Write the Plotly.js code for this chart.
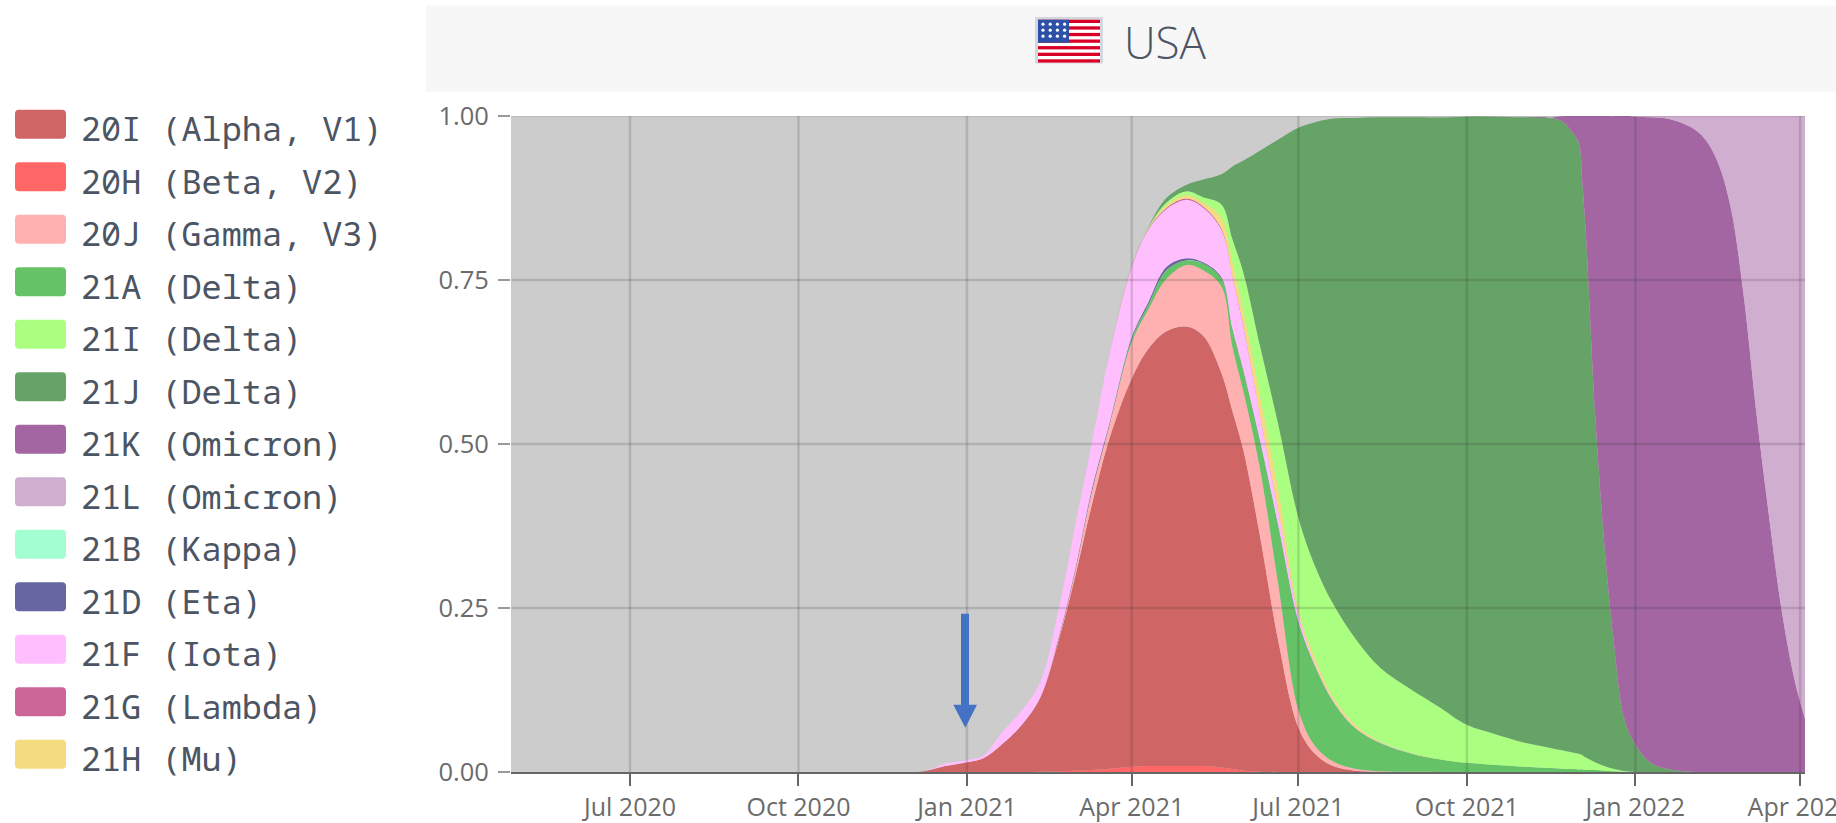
<!DOCTYPE html>
<html>
<head>
<meta charset="utf-8">
<script src="https://cdn.plot.ly/plotly-3.0.1.min.js"></script>
<style>html,body{margin:0;padding:0;background:#fff}#chart{width:1836px;height:823px}</style>
</head>
<body>
<div id="chart"></div>
<script>
const dates = [
 '2020-12-05','2020-12-10','2020-12-20','2021-01-01','2021-01-10','2021-01-20','2021-01-31','2021-02-10','2021-02-20','2021-03-01','2021-03-10','2021-03-20','2021-04-01',
 '2021-04-10','2021-04-20','2021-05-01','2021-05-10','2021-05-20','2021-05-26','2021-06-01','2021-06-10','2021-06-20','2021-07-01','2021-07-10','2021-07-20','2021-08-01','2021-08-15',
 '2021-09-01','2021-09-15','2021-10-01','2021-10-15','2021-11-01','2021-11-15','2021-11-22','2021-11-27','2021-12-01','2021-12-03','2021-12-05','2021-12-10','2021-12-15','2021-12-20','2021-12-26',
 '2022-01-01','2022-01-10','2022-01-20','2022-02-01','2022-02-08','2022-02-15','2022-02-22','2022-03-01','2022-03-08','2022-03-15','2022-03-22','2022-03-29','2022-04-04'];

const v20H = [0,0,0,0,0,0,0,.0005,.001,.002,.003,.005,.008,
 .009,.009,.009,.009,.007,.0045,.002,.0005,.0001,0,0,0,0,0,
 0,0,0,0,0,0,0,0,0,0,0,0,0,0,0,
 0,0,0,0,0,0,0,0,0,0,0,0,0];
const v20I = [0,.002,.009,.015,.021,.042,.072,.1125,.199,.295,.402,.505,.592,
 .636,.663,.67,.656,.601,.5455,.488,.3595,.2,.068,.028,.009,.002,.0003,
 0,0,0,0,0,0,0,0,0,0,0,0,0,0,0,
 0,0,0,0,0,0,0,0,0,0,0,0,0];
const v20J = [0,0,0,0,0,0,0,.0005,.003,.008,.02,.02,.055,
 .06,.08,.094,.10,.132,.098,.09,.103,.086,.027,.012,.007,.003,.0007,
 .0002,0,0,0,0,0,0,0,0,0,0,0,0,0,0,
 0,0,0,0,0,0,0,0,0,0,0,0,0];
const v21A = [0,0,0,0,0,0,0,0,0,0,0,.001,.005,
 .007,.013,.007,.01,.012,.027,.031,.042,.089,.134,.122,.091,.062,.043,
 .0278,.02,.014,.011,.008,.006,.005,.0045,.004,.004,.0035,.003,.002,.001,.0004,
 0,0,0,0,0,0,0,0,0,0,0,0,0];
const v21I = [0,0,0,0,0,0,0,0,0,0,0,0,0,
 .001,.004,.006,.008,.02,.035,.058,.075,.1,.14,.14,.142,.132,.112,
 .0965,.0807,.058,.048,.037,.031,.028,.0255,.024,.022,.0185,.012,.007,.0038,.001,
 0,0,0,0,0,0,0,0,0,0,0,0,0];
const v21J = [0,0,0,0,0,0,0,0,0,0,0,0,0,
 .001,.007,.01,.027,.046,.111,.171,.297,.434,.594,.676,.74,.793,.84,
 .873,.897,.927,.94,.953,.96,.959,.947,.932,.874,.798,.533,.341,.2,.079,
 .042,.013,.004,.0005,0,0,0,0,0,0,0,0,0];
const v21K = [0,0,0,0,0,0,0,0,0,0,0,0,0,
 0,0,0,0,0,0,0,0,0,0,0,0,0,0,
 0,0,0,0,0,0,.0075,.023,.04,.10,.18,.452,.65,.795,.92,
 .957,.985,.991,.9815,.965,.93,.862,.73,.55,.39,.245,.14,.078];
const v21L = [0,0,0,0,0,0,0,0,0,0,0,0,0,
 0,0,0,0,0,0,0,0,0,0,0,0,0,0,
 0,0,0,0,0,0,0,0,0,0,0,0,0,0,0,
 .001,.002,.005,.018,.035,.07,.138,.27,.45,.61,.755,.86,.922];
const v21B = [0,0,0,0,0,0,0,0,0,0,0,0,.0002,
 .0002,.0002,.0002,.0002,.0002,0,0,0,0,0,0,0,0,0,
 0,0,0,0,0,0,0,0,0,0,0,0,0,0,0,
 0,0,0,0,0,0,0,0,0,0,0,0,0];
const v21D = [0,0,0,0,0,0,0,0,.002,.003,.004,.003,.003,
 .004,.005,.003,.002,.002,.001,.001,.001,.001,.001,.0005,.0005,0,0,
 0,0,0,0,0,0,0,0,0,0,0,0,0,0,0,
 0,0,0,0,0,0,0,0,0,0,0,0,0];
const v21F = [0,0,.004,.003,.004,.018,.022,.023,.042,.066,.07,.105,.107,
 .11,.088,.089,.083,.072,.079,.066,.038,.022,.01,.003,.0015,.001,.0005,
 0,0,0,0,0,0,0,0,0,0,0,0,0,0,0,
 0,0,0,0,0,0,0,0,0,0,0,0,0];
const v21G = [0,0,0,0,0,0,0,0,0,0,0,.0005,.001,
 .001,.002,.002,.002,.002,.001,.002,.001,.001,.001,0,0,0,0,
 0,0,0,0,0,0,0,0,0,0,0,0,0,0,0,
 0,0,0,0,0,0,0,0,0,0,0,0,0];
const v21H = [0,0,0,0,0,0,0,0,0,0,0,0,0,
 .001,.004,.005,.006,.017,.021,.023,.03,.031,.007,.009,.005,.004,.0015,
 .0005,0,0,0,0,0,0,0,0,0,0,0,0,0,0,
 0,0,0,0,0,0,0,0,0,0,0,0,0];

const legendNames = ['20I (Alpha, V1)','20H (Beta, V2)','20J (Gamma, V3)','21A (Delta)','21I (Delta)','21J (Delta)',
 '21K (Omicron)','21L (Omicron)','21B (Kappa)','21D (Eta)','21F (Iota)','21G (Lambda)','21H (Mu)'];
const legendColors = ['#cf6565','#ff6666','#ffb0b0','#66c266','#aaff80','#66a366','#a366a3','#d0aed0','#a3ffd1','#6666a3','#ffbfff','#cc6699','#f5db80'];
const legendValues = [v20I,v20H,v20J,v21A,v21I,v21J,v21K,v21L,v21B,v21D,v21F,v21G,v21H];
const stackOrder = [1,0,2,3,8,9,10,11,12,4,5,6,7];

const xTicks = ['2020-07-01','2020-10-01','2021-01-01','2021-04-01','2021-07-01','2021-10-01','2022-01-01','2022-04-01'];
const yTicks = [0,0.25,0.5,0.75,1];
const titleText = 'USA';

const W=1836,H=823,L=511,R=1805,T=116.3,B=772.3;
const px = x => (x-L)/(R-L);
const py = y => (B-y)/(B-T);
const gridColor='rgba(50,50,50,0.17)';

const traces = stackOrder.map(i => ({
  x: dates, y: legendValues[i], name: legendNames[i], type:'scatter', mode:'lines', stackgroup:'one',
  line:{width:0,shape:'spline',smoothing:1.0,color:legendColors[i]}, fillcolor:legendColors[i], hoverinfo:'x+y+name'
}));

function roundRect(x0,y0,x1,y1,r){
  const X=px,Y=py;
  return `M${X(x0+r)},${Y(y0)} L${X(x1-r)},${Y(y0)} Q${X(x1)},${Y(y0)} ${X(x1)},${Y(y0+r)} L${X(x1)},${Y(y1-r)} Q${X(x1)},${Y(y1)} ${X(x1-r)},${Y(y1)} L${X(x0+r)},${Y(y1)} Q${X(x0)},${Y(y1)} ${X(x0)},${Y(y1-r)} L${X(x0)},${Y(y0+r)} Q${X(x0)},${Y(y0)} ${X(x0+r)},${Y(y0)} Z`;
}
const arrowPath = [[961,614],[969,614],[969,705],[977,705],[965.3,728],[953.3,705],[961,705]]
  .map((p,i)=>(i?'L':'M')+px(p[0])+','+py(p[1])).join(' ')+' Z';

const shapes = [
  {type:'rect',xref:'paper',yref:'paper',x0:px(426),x1:px(1836),y0:py(92),y1:py(6),fillcolor:'#f7f7f7',line:{width:0},layer:'below'}
];
xTicks.forEach(t=>shapes.push({type:'line',xref:'x',yref:'paper',x0:t,x1:t,y0:0,y1:1,line:{color:gridColor,width:2.5},layer:'above'}));
yTicks.slice(1).forEach(t=>shapes.push({type:'line',xref:'paper',yref:'y',x0:0,x1:1,y0:t,y1:t,line:{color:t===1?'rgba(50,50,50,0.1)':gridColor,width:2.5},layer:'above'}));
shapes.push({type:'path',xref:'paper',yref:'paper',path:arrowPath,fillcolor:'#4472c4',line:{width:0},layer:'above'});
const annotations=[];
legendNames.forEach((n,i)=>{
  const c=124.5+52.5*i;
  shapes.push({type:'path',xref:'paper',yref:'paper',path:roundRect(15,c-14.5,66,c+14.5,4),fillcolor:legendColors[i],line:{width:0},layer:'above'});
  annotations.push({xref:'paper',yref:'paper',x:px(79),y:py(c+4),text:n,showarrow:false,xanchor:'left',yanchor:'middle',align:'left',
    font:{family:'"Noto Sans Mono","Noto Sans Mono CJK SC","DejaVu Sans Mono",monospace',size:33.5,color:'#4b5563'}});
});

let stripes='';
for(let i=0;i<13;i+=2){stripes+=`<rect x="3" y="${3+i*3.3}" width="62" height="3.3" fill="#d80027"/>`;}
let stars='';
for(let r=0;r<3;r++)for(let c=0;c<4;c++){stars+=`<circle cx="${8+c*7.2}" cy="${7.5+r*6}" r="1.6" fill="#fff"/>`;}
const flag=`<svg xmlns="http://www.w3.org/2000/svg" width="68" height="47" viewBox="0 0 68 47"><rect width="68" height="47" fill="#d4d7dd"/><rect x="3" y="3" width="62" height="43" fill="#fff" /><g>${stripes}</g><rect x="3" y="3" width="31" height="23" fill="#2d50a8"/>${stars}</svg>`;

const layout = {
  width:W,height:H,autosize:false,
  margin:{l:L,r:W-R,t:T,b:H-B,pad:0},
  paper_bgcolor:'#ffffff',plot_bgcolor:'#cccccc',
  showlegend:false,
  title:{text:titleText,x:1165/W,xanchor:'center',xref:'container',y:1-44/H,yanchor:'middle',yref:'container',
    font:{family:'"Open Sans",sans-serif',size:44,color:'#4b5563',weight:300}},
  font:{family:'"Open Sans",sans-serif',size:25,color:'#666'},
  xaxis:{type:'date',range:['2020-04-27','2022-04-03 16:00'],tickvals:xTicks,tickformat:'%b %Y',showgrid:false,zeroline:false,
    ticks:'outside',ticklen:12,tickwidth:2,tickcolor:'#666',showline:true,linecolor:'#666',linewidth:2,ticklabeloverflow:'allow',
    tickfont:{family:'"Open Sans",sans-serif',size:25,color:'#6b6b6b'},layer:'above traces'},
  yaxis:{range:[0,1],tickvals:yTicks,tickformat:'.2f',showgrid:false,zeroline:false,ticks:'outside',ticklen:12,tickwidth:2,tickcolor:'#999',showline:false,ticklabelstandoff:4,
    tickfont:{family:'"Open Sans",sans-serif',size:25.5,color:'#6b6b6b'}},
  shapes:shapes,annotations:annotations,
  images:[{source:'data:image/svg+xml;charset=utf-8,'+encodeURIComponent(flag),xref:'paper',yref:'paper',x:px(1035),y:py(17),sizex:px(1103)-px(1035),sizey:py(17)-py(64),xanchor:'left',yanchor:'top',sizing:'stretch',layer:'above'}]
};
Plotly.newPlot('chart',traces,layout,{displayModeBar:false,responsive:false});
</script>
</body>
</html>
